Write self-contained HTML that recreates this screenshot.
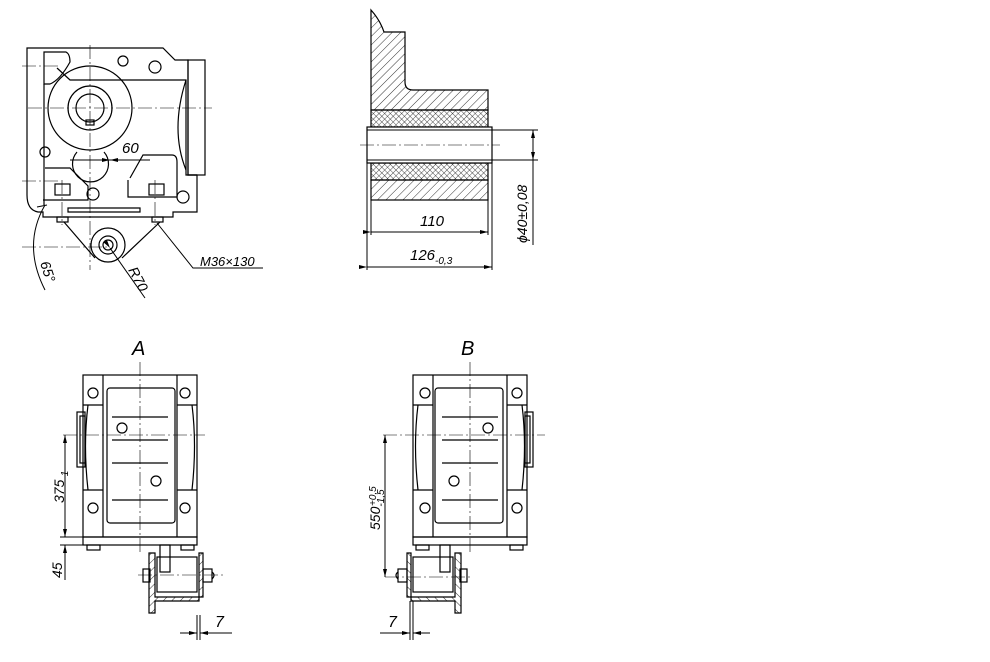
<!DOCTYPE html>
<html><head><meta charset="utf-8"><style>
html,body{margin:0;padding:0;background:#fff;}
svg{display:block;}
text{font-family:"Liberation Sans",sans-serif;font-style:italic;fill:#000;}
</style></head><body>
<svg width="990" height="662" viewBox="0 0 990 662" xmlns="http://www.w3.org/2000/svg">
<defs>
<pattern id="h" width="6" height="6" patternUnits="userSpaceOnUse" patternTransform="rotate(45)">
<line x1="0" y1="0" x2="0" y2="6" stroke="#000" stroke-width="0.8"/></pattern>
<pattern id="x" width="4" height="4" patternUnits="userSpaceOnUse" patternTransform="rotate(45)">
<line x1="0" y1="0" x2="0" y2="4" stroke="#000" stroke-width="0.7"/><line x1="0" y1="0" x2="4" y2="0" stroke="#000" stroke-width="0.7"/></pattern>
<marker id="ar" markerWidth="8" markerHeight="4" refX="8" refY="2" orient="auto" markerUnits="userSpaceOnUse"><path d="M0,0 L8,2 L0,4z" fill="#000"/></marker>
</defs>
<g fill="none" stroke="#000" stroke-width="1.2">
<!-- Top-left view -->
<path d="M27,48 H163 L175,60 H188 V175 H197 V212 H173 V217 H43 V212 H38 Q27,210 27,195 Z"/>
<rect x="188" y="60" width="17" height="115"/>
<path d="M44,52 H66 Q70,54 70,62 Q60,80 50,84 H44 Z"/>
<path d="M44,84 V205"/>
<path d="M57,68 L70,80 H155 L186,80 V175 H197"/>
<path d="M186,80 Q170,130 186,170"/>
<circle cx="90" cy="108" r="42"/>
<circle cx="90" cy="108" r="22"/>
<circle cx="90" cy="108" r="14"/>
<rect x="86" y="120" width="8" height="5"/>
<path d="M77,152 A18,18 0 1 0 104,152"/>
<path d="M45,168 H70 L88,186 V200 H43"/>
<path d="M130,178 L143,155 H172 Q177,155 177,162 V197 H128 V180"/>
<circle cx="123" cy="61" r="5"/><circle cx="155" cy="67" r="6"/>
<circle cx="45" cy="152" r="5"/><circle cx="93" cy="194" r="6"/><circle cx="183" cy="197" r="6"/>
<rect x="55" y="184" width="15" height="11"/><rect x="149" y="184" width="15" height="11"/>
<rect x="57" y="217" width="11" height="5"/><rect x="152" y="217" width="11" height="5"/>
<path d="M68,208 H140 V212 H68 Z"/>
<path d="M64,222 L95,258 M160,222 L122,258"/>
<circle cx="108" cy="245" r="17"/><circle cx="108" cy="245" r="9"/><circle cx="108" cy="245" r="5"/>
<path d="M157,223 L193,268 H263" stroke-width="1"/>
<path d="M110,248 L145,298" stroke-width="1" marker-start="url(#ar)"/>
<path d="M45,205 Q22,245 45,290" stroke-width="1"/>
<path d="M37,207 L47,205" stroke-width="1"/>
</g>
<g stroke="#000" stroke-width="0.6" stroke-dasharray="14,3,2,3" fill="none">
<line x1="90" y1="45" x2="90" y2="270"/><line x1="28" y1="108" x2="212" y2="108"/>
<line x1="22" y1="66" x2="60" y2="66"/><line x1="22" y1="181" x2="60" y2="181"/>
<line x1="22" y1="247" x2="110" y2="247"/><line x1="62" y1="180" x2="62" y2="225"/><line x1="155" y1="180" x2="155" y2="225"/>
</g>
<g stroke="#000" stroke-width="0.9"><line x1="70" y1="160" x2="110" y2="160" marker-end="url(#ar)"/><line x1="150" y1="160" x2="110" y2="160" marker-end="url(#ar)"/></g>
<text x="122" y="153" font-size="15">60</text>
<text x="200" y="266" font-size="13">M36×130</text>
<text transform="translate(128,270) rotate(62)" font-size="14">R70</text>
<text transform="translate(40,263) rotate(72)" font-size="14">65°</text>

<!-- Section view -->
<path d="M371,92 V10 Q380,20 384,32 L405,32 V82 Q405,90 413,90 H488 V110 H371 Z" fill="url(#h)" stroke="#000" stroke-width="1.2"/>
<rect x="371" y="110" width="117" height="17" fill="url(#x)" stroke="#000" stroke-width="1.2"/>
<rect x="371" y="163" width="117" height="17" fill="url(#x)" stroke="#000" stroke-width="1.2"/>
<rect x="371" y="180" width="117" height="20" fill="url(#h)" stroke="#000" stroke-width="1.2"/>
<rect x="367" y="127" width="125" height="36" fill="#fff" stroke="#000" stroke-width="1.2"/>
<g stroke="#000" fill="none" stroke-width="1">
<line x1="367" y1="130" x2="492" y2="130"/><line x1="367" y1="160" x2="492" y2="160"/>
<line x1="371" y1="200" x2="371" y2="235"/><line x1="488" y1="200" x2="488" y2="235"/>
<line x1="367" y1="163" x2="367" y2="270"/><line x1="492" y1="163" x2="492" y2="270"/>
<line x1="371" y1="232" x2="488" y2="232" marker-start="url(#ar)" marker-end="url(#ar)"/>
<line x1="367" y1="267" x2="492" y2="267" marker-start="url(#ar)" marker-end="url(#ar)"/>
<line x1="492" y1="130" x2="538" y2="130"/><line x1="492" y1="160" x2="538" y2="160"/>
<line x1="533" y1="145" x2="533" y2="130" marker-end="url(#ar)"/><line x1="533" y1="145" x2="533" y2="160" marker-end="url(#ar)"/>
<line x1="533" y1="160" x2="533" y2="245"/>
</g>
<line x1="360" y1="145" x2="500" y2="145" stroke="#000" stroke-width="0.6" stroke-dasharray="14,3,2,3"/>
<text x="420" y="226" font-size="15">110</text>
<text x="410" y="260" font-size="15">126<tspan font-size="10" dy="4">-0,3</tspan></text>
<text transform="translate(527,243) rotate(-90)" font-size="14">ϕ40±0,08</text>

<!-- View A / B -->
<g id="va" fill="none" stroke="#000" stroke-width="1.2">
<rect x="83" y="375" width="114" height="162"/>
<rect x="83" y="537" width="114" height="8"/>
<line x1="103" y1="375" x2="103" y2="537"/><line x1="177" y1="375" x2="177" y2="537"/>
<rect x="107" y="388" width="68" height="135" rx="3"/>
<path d="M83,405 H103 M83,490 H103 M177,405 H197 M177,490 H197"/>
<path d="M88,405 Q83,445 88,490 M192,405 Q197,445 192,490"/>
<circle cx="93" cy="393" r="5"/><circle cx="185" cy="393" r="5"/><circle cx="93" cy="508" r="5"/><circle cx="185" cy="508" r="5"/>
<path d="M112,417 H168 M112,440 H168 M112,463 H168 M112,500 H168"/>
<circle cx="122" cy="428" r="5"/><circle cx="156" cy="481" r="5"/>
<rect x="77" y="412" width="8" height="55"/><rect x="80" y="416" width="5" height="47"/>
<rect x="87" y="545" width="13" height="5"/><rect x="181" y="545" width="13" height="5"/>
<rect x="160" y="545" width="10" height="27"/>
<rect x="157" y="557" width="40" height="35"/>
<path d="M149,553 H155 V597 H203 V553 H199 V601 H155 V613 H149 Z" fill="url(#h)"/>
<rect x="143" y="569" width="7" height="13"/><rect x="203" y="569" width="9" height="13"/><path d="M212,572 Q216,575 212,579"/>
</g>
<use href="#va" transform="translate(610,0) scale(-1,1)"/>
<g stroke="#000" stroke-width="0.6" stroke-dasharray="14,3,2,3">
<line x1="140" y1="362" x2="140" y2="555"/><line x1="63" y1="435" x2="205" y2="435"/><line x1="138" y1="575" x2="225" y2="575"/>
<line x1="470" y1="362" x2="470" y2="555"/><line x1="383" y1="435" x2="545" y2="435"/><line x1="385" y1="577" x2="472" y2="577"/>
</g>
<g stroke="#000" stroke-width="1" fill="none">
<line x1="65" y1="486" x2="65" y2="435" marker-end="url(#ar)"/><line x1="65" y1="486" x2="65" y2="537" marker-end="url(#ar)"/>
<line x1="60" y1="537" x2="83" y2="537"/><line x1="60" y1="545" x2="83" y2="545"/>
<line x1="65" y1="580" x2="65" y2="545" marker-end="url(#ar)"/>
<line x1="197" y1="615" x2="197" y2="640"/><line x1="200" y1="615" x2="200" y2="640"/>
<line x1="180" y1="633" x2="197" y2="633" marker-end="url(#ar)"/><line x1="217" y1="633" x2="200" y2="633" marker-end="url(#ar)"/><line x1="200" y1="633" x2="232" y2="633"/>
<line x1="385" y1="506" x2="385" y2="435" marker-end="url(#ar)"/><line x1="385" y1="506" x2="385" y2="577" marker-end="url(#ar)"/>
<line x1="410" y1="601" x2="410" y2="640"/><line x1="413" y1="601" x2="413" y2="640"/>
<line x1="380" y1="633" x2="410" y2="633" marker-end="url(#ar)"/><line x1="430" y1="633" x2="413" y2="633" marker-end="url(#ar)"/>
</g>
<text x="132" y="355" font-size="20">A</text>
<text x="461" y="355" font-size="20">B</text>
<text transform="translate(64,503) rotate(-90)" font-size="14">375<tspan font-size="10" dy="4">-1</tspan></text>
<text transform="translate(62,578) rotate(-90)" font-size="14">45</text>
<text transform="translate(380,530) rotate(-90)" font-size="14">550<tspan font-size="10" dy="4">-1,5</tspan></text>
<text transform="translate(376,506) rotate(-90)" font-size="10">+0,5</text>
<text x="215" y="627" font-size="16">7</text>
<text x="388" y="627" font-size="16">7</text>
</svg>
</body></html>
